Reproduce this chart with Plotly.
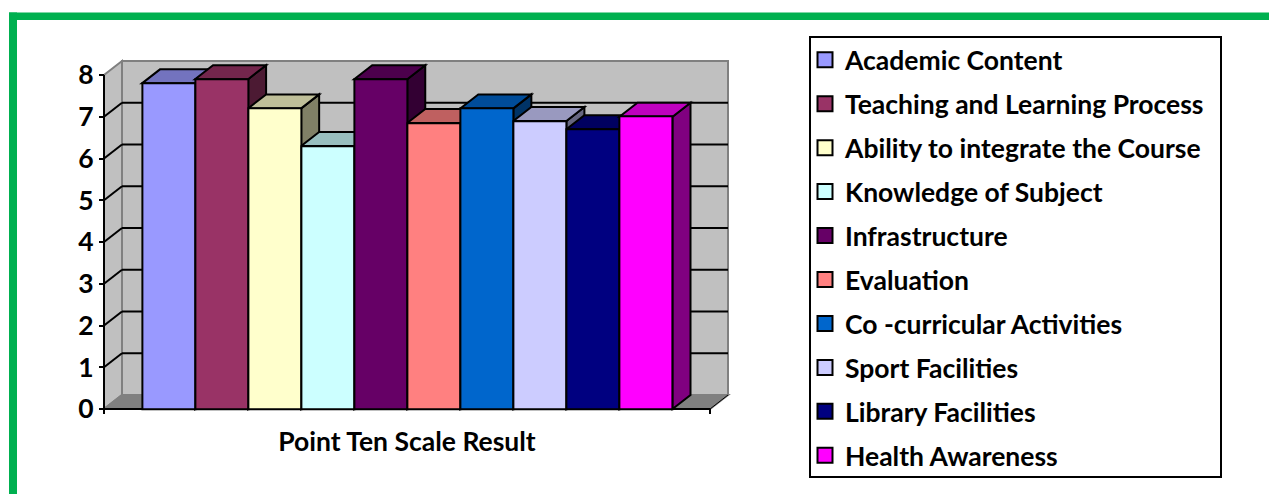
import plotly.graph_objects as go

categories = ["Academic Content", "Teaching and Learning Process", "Ability to integrate the Course",
              "Knowledge of Subject", "Infrastructure", "Evaluation", "Co -curricular Activities",
              "Sport Facilities", "Library Facilities", "Health Awareness"]
values = [7.8, 7.9, 7.2, 6.3, 7.9, 6.85, 7.2, 6.9, 6.7, 7.0]
colors = ["#9999FF", "#993366", "#FFFFCC", "#CCFFFF", "#660066", "#FF8080", "#0066CC", "#CCCCFF", "#000080", "#FF00FF"]
y_ticks = [0, 1, 2, 3, 4, 5, 6, 7, 8]
axis_label = "Point Ten Scale Result"

W, H = 1269, 494
FONT = "Lato"
FS = 26.5
X0_PX, Y0_PX = 104.0, 409.0     # front-plane origin
UX, UY = 53.05, 41.75           # pixels per bar width / per value unit
DX, DY = 18 / UX, 14 / UY       # 3-D depth in axis units
GAP = (142 - X0_PX) / UX        # space before the first bar
FRONT_R = (710 - X0_PX) / UX
BACK_R = (728 - X0_PX) / UX
XR = (-0.2, 11.9)
YR = (-0.25, 8.4)


def shade(hex_color, f):
    r, g, b = (int(hex_color[i:i + 2], 16) for i in (1, 3, 5))
    return f"rgb({r * f:.0f},{g * f:.0f},{b * f:.0f})"


def poly(points):
    return "M" + " L".join(f"{x:.4f},{y:.4f}" for x, y in points) + " Z"


def area(points, fill, line, width=2):
    return dict(type="path", path=poly(points), xref="x", yref="y", layer="below",
                fillcolor=fill, line=dict(color=line, width=width))


def seg(x0, y0, x1, y1, color="black", width=2, layer="below"):
    return dict(type="line", x0=x0, y0=y0, x1=x1, y1=y1, xref="x", yref="y", layer=layer,
                line=dict(color=color, width=width))


ymax = y_ticks[-1]
shapes = [
    # green frame
    dict(type="rect", xref="paper", yref="paper", x0=9 / W, x1=1, y0=1 - 20 / H, y1=1 - 12.5 / H,
         fillcolor="#00B050", line_width=0),
    dict(type="rect", xref="paper", yref="paper", x0=9 / W, x1=17 / W, y0=0, y1=1 - 12.5 / H,
         fillcolor="#00B050", line_width=0),
    # legend box
    dict(type="rect", xref="paper", yref="paper", x0=810 / W, x1=1221 / W, y0=1 - 477 / H, y1=1 - 37 / H,
         fillcolor="white", line=dict(color="black", width=2), layer="below"),
    # walls and floor
    area([(DX, DY), (BACK_R, DY), (BACK_R, ymax + DY), (DX, ymax + DY)], "#C0C0C0", "#808080"),
    area([(0, 0), (DX, DY), (DX, ymax + DY), (0, ymax)], "#C0C0C0", "#808080"),
    area([(0, 0), (FRONT_R, 0), (BACK_R, DY), (DX, DY)], "#808080", "#808080"),
]
for k in y_ticks[1:-1]:
    shapes.append(seg(0, k, DX, k + DY))
    shapes.append(seg(DX, k + DY, BACK_R, k + DY))
shapes.append(seg(0, 0, 0, ymax))
shapes.append(seg(0, 0, FRONT_R, 0))
shapes.append(seg(0, 0, 0, -0.12))
shapes.append(seg(FRONT_R, 0, FRONT_R, -0.12))
shapes.append(seg(FRONT_R, 0, BACK_R, DY, color="black", width=1))

fig = go.Figure()
for i, (name, v, c) in enumerate(zip(categories, values, colors)):
    left, right = GAP + i, GAP + i + 1
    shapes.append(area([(right, 0), (right + DX, DY), (right + DX, v + DY), (right, v)], shade(c, 0.5), "black"))
    shapes.append(area([(left, v), (right, v), (right + DX, v + DY), (left + DX, v + DY)], shade(c, 0.75), "black"))
    fig.add_trace(go.Bar(x=[left + 0.5], y=[v], width=1, name=name, showlegend=False,
                         marker=dict(color=c, line=dict(color="black", width=2))))
    fig.add_trace(go.Scatter(x=[None], y=[None], mode="markers", name=name, legendgroup=f"g{i}",
                             marker=dict(symbol="square", size=15, color=c, line=dict(color="black", width=2))))

fig.update_layout(
    width=W, height=H, autosize=False,
    margin=dict(l=0, r=0, t=0, b=0, pad=0, autoexpand=False),
    paper_bgcolor="white", plot_bgcolor="rgba(0,0,0,0)",
    barmode="overlay", bargap=0,
    font=dict(family=FONT, size=FS, color="black", weight=700),
    shapes=shapes,
    showlegend=True,
    legend=dict(x=805 / W, y=1 - 36 / H, xanchor="left", yanchor="top",
                bgcolor="rgba(0,0,0,0)", borderwidth=0,
                font=dict(family=FONT, size=FS, color="black", weight=700),
                tracegroupgap=6.5, itemsizing="trace", itemwidth=30, traceorder="grouped"),
    xaxis=dict(domain=[(X0_PX + XR[0] * UX) / W, (X0_PX + XR[1] * UX) / W], range=list(XR),
               anchor="free", position=(H - Y0_PX) / H, showgrid=False, zeroline=False, showline=False,
               tickmode="array", tickvals=[FRONT_R / 2], ticktext=[axis_label], ticks="",
               ticklabelstandoff=14,
               tickfont=dict(family=FONT, size=FS, color="black", weight=700)),
    yaxis=dict(domain=[(H - (Y0_PX - YR[0] * UY)) / H, (H - (Y0_PX - YR[1] * UY)) / H], range=list(YR),
               anchor="free", position=X0_PX / W, showgrid=False, zeroline=False, showline=False,
               tickmode="array", tickvals=y_ticks, ticks="outside", ticklen=5, tickwidth=2, tickcolor="black",
               tickfont=dict(family=FONT, size=FS, color="black", weight=700)),
)

fig.write_html("out.html", config=dict(displayModeBar=False),
               post_script="document.body.style.margin='0';document.body.style.overflow='hidden';")
